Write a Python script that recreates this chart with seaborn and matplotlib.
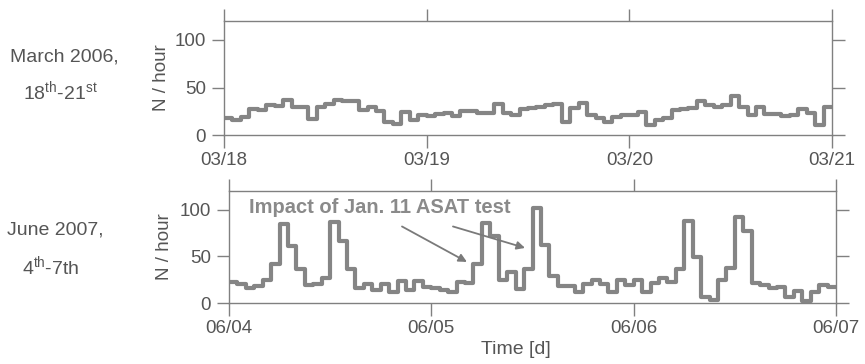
import numpy as np
import pandas as pd
import seaborn as sns
import matplotlib
matplotlib.use("Agg")
import matplotlib.pyplot as plt

# hourly counts, 72 bins per panel
march_2006 = [18, 16, 19, 27, 26, 32, 31, 37, 29, 29, 17, 30, 33, 37, 36, 36, 26, 30, 25, 14, 12, 24, 16, 21,
              20, 22, 23, 20, 25, 25, 23, 23, 33, 23, 21, 27, 28, 30, 32, 33, 14, 28, 34, 21, 18, 14, 19, 21,
              21, 24, 11, 16, 18, 26, 27, 28, 36, 32, 30, 32, 41, 30, 21, 29, 22, 22, 20, 21, 27, 23, 11, 29]
june_2007 = [23, 20, 16, 18, 25, 42, 85, 61, 36, 19, 20, 27, 87, 66, 36, 16, 20, 14, 20, 12, 24, 14, 24, 17,
             16, 14, 12, 23, 21, 42, 86, 72, 25, 33, 15, 36, 102, 62, 29, 18, 18, 12, 20, 25, 20, 12, 25, 19,
             25, 12, 21, 27, 22, 36, 88, 49, 6, 3, 25, 37, 92, 77, 21, 19, 16, 17, 6, 13, 2, 12, 19, 17]
march_ticks = ["03/18", "03/19", "03/20", "03/21"]
june_ticks = ["06/04", "06/05", "06/06", "06/07"]
march_title = ["March 2006,", r"18$^{\mathrm{th}}$-21$^{\mathrm{st}}$"]
june_title = ["June 2007,", r"4$^{\mathrm{th}}$-7th"]
note = "Impact of Jan. 11 ASAT test"

sns.set_style("white")
plt.rcParams["font.family"] = ["Liberation Sans", "DejaVu Sans"]
plt.rcParams["mathtext.fontset"] = "custom"
plt.rcParams["mathtext.rm"] = "Liberation Sans"

W, H = 865, 364
TXT = "#555555"
AXC = "#808080"
LINE = "#858585"

fig = plt.figure(figsize=(W / 100, H / 100), dpi=100)


def frame(left, right, top, bottom):
    return fig.add_axes([left / W, 1 - bottom / H, (right - left) / W, (bottom - top) / H])


def stairs(values):
    # one extra edge so the last hour reaches the right spine
    return pd.DataFrame({"day": np.arange(len(values) + 1) / 24.0,
                         "n": list(values) + [values[-1]]})


def style(ax, labels):
    ax.set_xlim(0, 3)
    ax.set_ylim(0, 120)
    ax.set_xticks([0, 1, 2, 3])
    ax.set_xticklabels(labels)
    ax.set_yticks([0, 50, 100])
    for s in ax.spines.values():
        s.set_visible(True)
        s.set_color(AXC)
        s.set_linewidth(1.0)
    ax.tick_params(axis="both", which="both", direction="out", length=9, width=1.0,
                   color=AXC, labelcolor=TXT, labelsize=13.5,
                   top=True, right=True, left=True, bottom=True,
                   labeltop=False, labelright=False)
    ax.tick_params(axis="x", pad=3)
    ax.tick_params(axis="y", pad=4)
    ax.set_ylabel("N / hour", fontsize=13.5, color=TXT)
    ax.yaxis.label.set_va("center")
    ax.set_xlabel("")


ax1 = frame(224, 832, 21, 135)
sns.lineplot(data=stairs(march_2006), x="day", y="n", drawstyle="steps-post",
             color=LINE, linewidth=3.0, ax=ax1)
style(ax1, march_ticks)
ax1.yaxis.set_label_coords((162 - 224) / 608, 0.5)

ax2 = frame(229, 836, 191, 303)
sns.lineplot(data=stairs(june_2007), x="day", y="n", drawstyle="steps-post",
             color=LINE, linewidth=3.0, ax=ax2)
style(ax2, june_ticks)
ax2.yaxis.set_label_coords((165 - 229) / 607, 0.5)
ax2.set_xlabel("Time [d]", fontsize=14, color=TXT)
ax2.xaxis.set_label_coords((516 - 229) / 607, (303 - 341) / 112)

ax2.text(0.744, 102, note, ha="center", va="center", fontsize=14.5,
         fontweight="bold", color="#8a8a8a")
for tail, head in [((0.855, 82), (1.176, 44)), ((1.107, 82), (1.463, 59))]:
    ax2.annotate("", xy=head, xytext=tail,
                 arrowprops=dict(arrowstyle="-|>", color="#7a7a7a", lw=1.3,
                                 mutation_scale=12, shrinkA=0, shrinkB=0))

for (x, y), s in zip([(64, 57), (60, 92)], march_title):
    fig.text(x / W, 1 - y / H, s, ha="center", va="center", fontsize=14, color=TXT)
for (x, y), s in zip([(55, 230), (51, 267)], june_title):
    fig.text(x / W, 1 - y / H, s, ha="center", va="center", fontsize=14, color=TXT)

fig.savefig("out.png", dpi=100)
